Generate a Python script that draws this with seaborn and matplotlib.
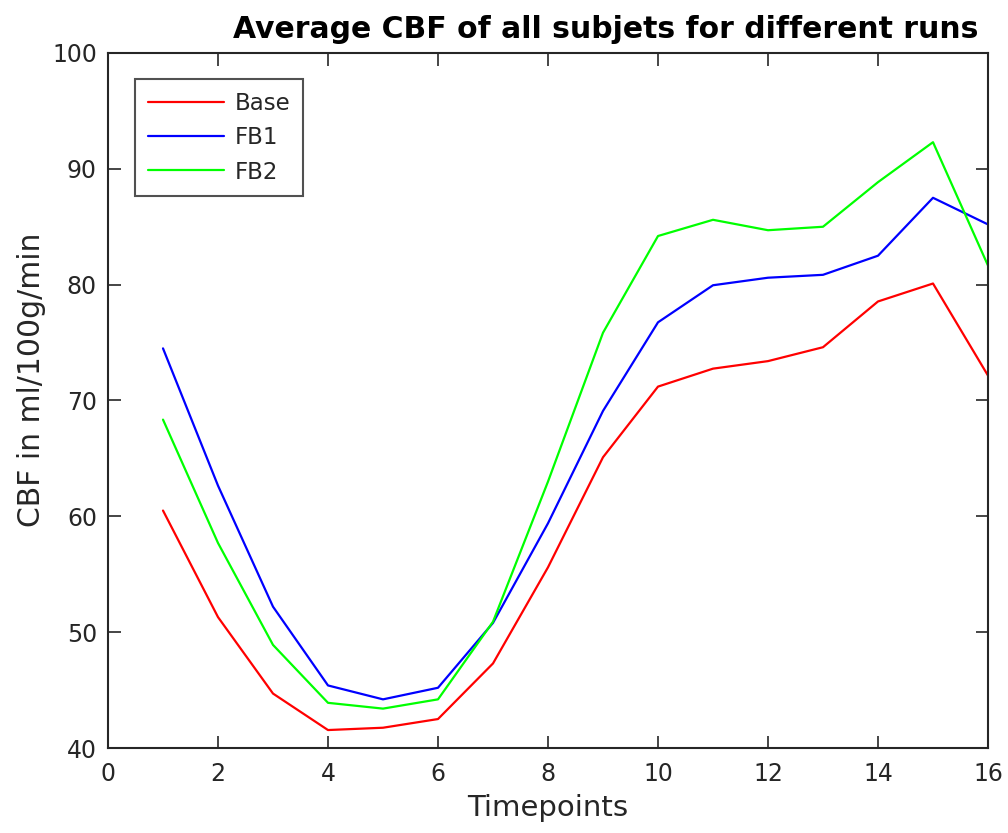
import matplotlib
matplotlib.use("Agg")
import matplotlib.pyplot as plt
import numpy as np
import pandas as pd
import seaborn as sns

timepoints = list(range(1, 17))
base = [60.5, 51.3, 44.7, 41.55, 41.75, 42.5, 47.3, 55.6, 65.1, 71.2, 72.75, 73.4, 74.6, 78.55, 80.1, 72.15]
fb1 = [74.5, 62.65, 52.2, 45.4, 44.2, 45.2, 50.8, 59.4, 69.1, 76.75, 79.95, 80.6, 80.85, 82.5, 87.5, 85.2]
fb2 = [68.35, 57.7, 48.9, 43.9, 43.4, 44.2, 50.9, 63.0, 75.85, 84.2, 85.6, 84.7, 85.0, 88.85, 92.3, 81.65]
run_names = ["Base", "FB1", "FB2"]
run_colors = ["#ff0000", "#0000ff", "#00ff00"]
x_ticks = [0, 2, 4, 6, 8, 10, 12, 14, 16]
y_ticks = [40, 50, 60, 70, 80, 90, 100]

df = pd.DataFrame({
    "Timepoint": timepoints * 3,
    "CBF": base + fb1 + fb2,
    "Run": sum([[n] * len(timepoints) for n in run_names], []),
})

sns.set_style("white")
plt.rcParams["font.family"] = ["DejaVu Sans"]

fig = plt.figure(figsize=(10.08, 8.33), dpi=100)
ax = fig.add_axes([108 / 1008, 1 - 748 / 833, 880 / 1008, 695 / 833])

sns.lineplot(data=df, x="Timepoint", y="CBF", hue="Run",
             palette=dict(zip(run_names, run_colors)), linewidth=1.6, ax=ax)

ax.set_xlim(0, 16)
ax.set_ylim(40, 100)
ax.set_xticks(x_ticks)
ax.set_yticks(y_ticks)

axis_color = "#262626"
for sp in ax.spines.values():
    sp.set_visible(True)
    sp.set_color(axis_color)
    sp.set_linewidth(1.5)
ax.tick_params(direction="in", length=9, width=1.2, colors=axis_color,
               top=True, right=True, bottom=True, left=True,
               labelsize=17, pad=10)
ax.tick_params(axis="y", pad=8)
for lbl in ax.get_xticklabels() + ax.get_yticklabels():
    lbl.set_color(axis_color)

ax.set_xlabel("Timepoints", fontsize=21, color=axis_color, labelpad=6)
ax.set_ylabel("CBF in ml/100g/min", fontsize=21.5, color=axis_color)
ax.yaxis.set_label_coords(-0.07, 0.53)
fig.text(606 / 1008, 1 - 30 / 833, "Average CBF of all subjets for different runs",
         ha="center", va="center", fontsize=21.5, fontweight="bold", color="black")

leg = ax.legend(loc="upper left", bbox_to_anchor=(0.031, 0.9626), borderaxespad=0,
                fontsize=16.5, frameon=True, fancybox=False, handlelength=3.3,
                handletextpad=0.5, borderpad=0.55, labelspacing=0.5)
leg.get_frame().set_edgecolor(axis_color)
leg.get_frame().set_linewidth(1.5)
leg.set_title(None)

fig.savefig("out.png", dpi=100)
